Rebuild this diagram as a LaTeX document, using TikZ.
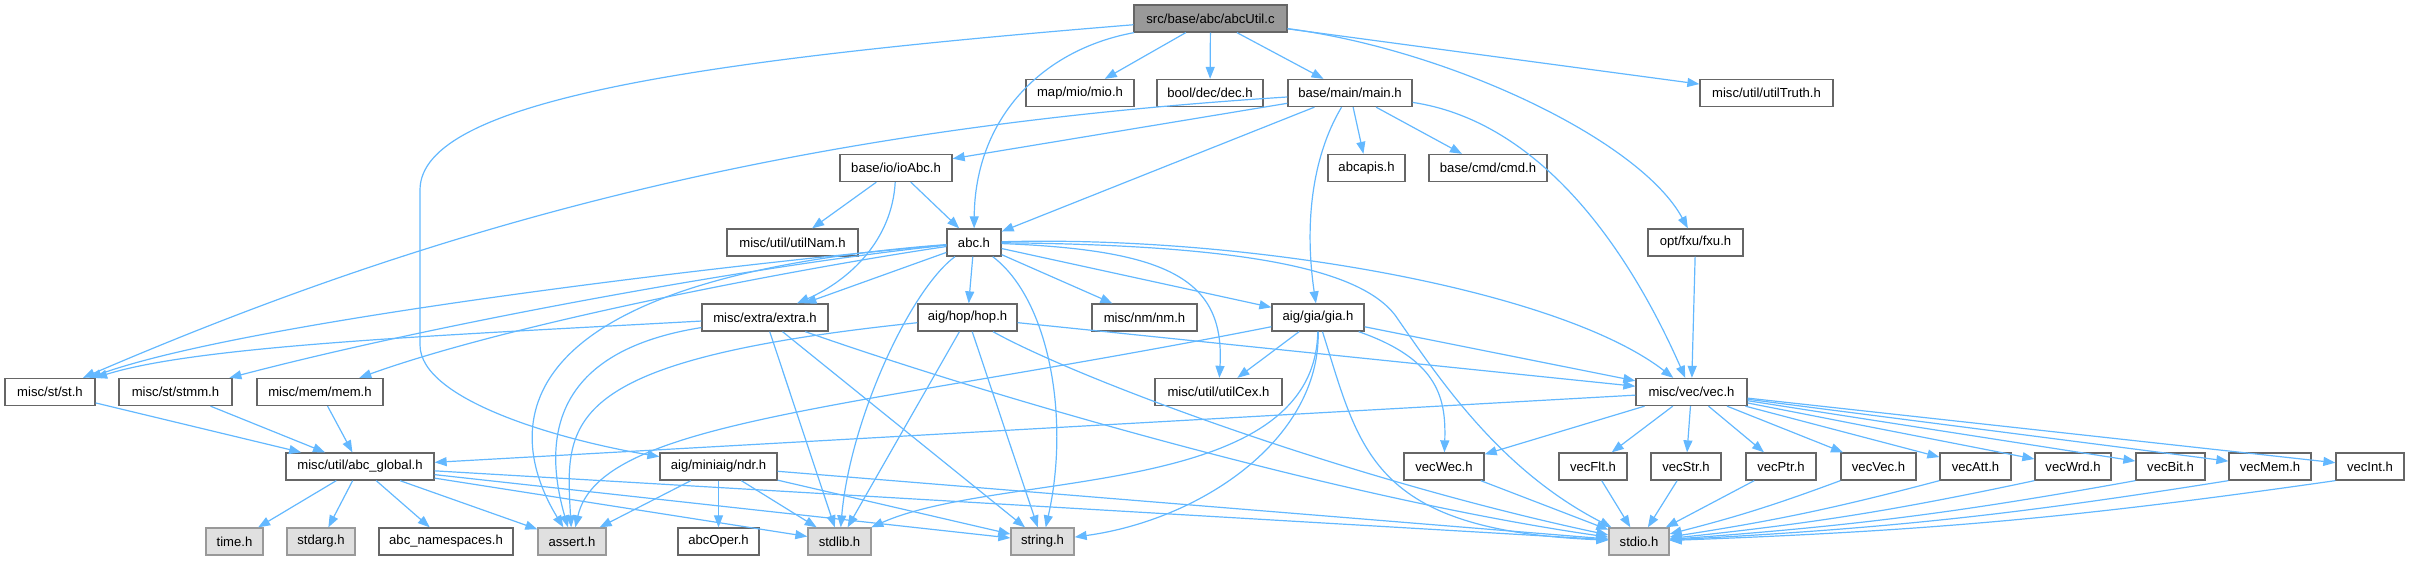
\documentclass[tikz,border=0pt]{standalone}
\usepackage{fontspec}
\setmainfont{Liberation Sans}
\usetikzlibrary{arrows.meta}
\definecolor{edgec}{HTML}{63B8FF}
\definecolor{bordc}{HTML}{666666}
\definecolor{sysfill}{HTML}{E0E0E0}
\definecolor{sysbord}{HTML}{999999}
\definecolor{rootfill}{HTML}{999999}
\begin{document}
\begin{tikzpicture}[x=1pt,y=-1pt,
  box/.style={draw=bordc, line width=1.3pt, fill=white, minimum height=27pt, inner sep=0pt,
     font=\fontsize{13.1}{15}\selectfont},
  sys/.style={box, draw=sysbord, fill=sysfill},
  rootbox/.style={box, fill=rootfill, draw=bordc},
  e/.style={draw=edgec, line width=1.2pt, -{Triangle[length=12pt,width=9pt]}}
]
\useasboundingbox (0,0) rectangle (2410,560);
% row 1
\node[rootbox, minimum width=153pt] (u) at (1210.5,18.5) {src/base/abc/abcUtil.c};
% row 2
\node[box, minimum width=108pt] (mio) at (1080,93) {map/mio/mio.h};
\node[box, minimum width=106pt] (dec) at (1210,93) {bool/dec/dec.h};
\node[box, minimum width=124pt] (m) at (1350,93) {base/main/main.h};
\node[box, minimum width=133pt] (truth) at (1766.5,93) {misc/util/utilTruth.h};
% row 3
\node[box, minimum width=112pt] (io) at (896,168) {base/io/ioAbc.h};
\node[box, minimum width=77pt] (apis) at (1366.5,168) {abcapis.h};
\node[box, minimum width=118pt] (cmd) at (1488,168) {base/cmd/cmd.h};
% row 4
\node[box, minimum width=131pt] (nam) at (792.5,242.5) {misc/util/utilNam.h};
\node[box, minimum width=54pt] (a) at (974,242.5) {abc.h};
\node[box, minimum width=95pt] (fxu) at (1695.5,242.5) {opt/fxu/fxu.h};
% row 5
\node[box, minimum width=126pt] (x) at (765,317.5) {misc/extra/extra.h};
\node[box, minimum width=99pt] (h) at (967.5,317.5) {aig/hop/hop.h};
\node[box, minimum width=105pt] (nm) at (1144.5,317.5) {misc/nm/nm.h};
\node[box, minimum width=92pt] (g) at (1318,317.5) {aig/gia/gia.h};
% row 6
\node[box, minimum width=90pt] (st) at (50,392) {misc/st/st.h};
\node[box, minimum width=113pt] (stmm) at (175.5,392) {misc/st/stmm.h};
\node[box, minimum width=126pt] (mem) at (320,392) {misc/mem/mem.h};
\node[box, minimum width=127pt] (cex) at (1218.5,392) {misc/util/utilCex.h};
\node[box, minimum width=111pt] (v) at (1691.5,392) {misc/vec/vec.h};
% row 7
\node[box, minimum width=148pt] (ag) at (360,466.5) {misc/util/abc\_global.h};
\node[box, minimum width=117pt] (n) at (718.5,466.5) {aig/miniaig/ndr.h};
\node[box, minimum width=80pt] (vwec) at (1444,466.5) {vecWec.h};
\node[box, minimum width=68pt] (vflt) at (1593,466.5) {vecFlt.h};
\node[box, minimum width=70pt] (vstr) at (1686,466.5) {vecStr.h};
\node[box, minimum width=70pt] (vptr) at (1781,466.5) {vecPtr.h};
\node[box, minimum width=75pt] (vvec) at (1878.5,466.5) {vecVec.h};
\node[box, minimum width=71pt] (vatt) at (1975.5,466.5) {vecAtt.h};
\node[box, minimum width=76pt] (vwrd) at (2073,466.5) {vecWrd.h};
\node[box, minimum width=69pt] (vbit) at (2170.5,466.5) {vecBit.h};
\node[box, minimum width=82pt] (vmem) at (2270,466.5) {vecMem.h};
\node[box, minimum width=68pt] (vint) at (2370,466.5) {vecInt.h};
% row 8
\node[sys, minimum width=57pt] (time) at (234.5,541.5) {time.h};
\node[sys, minimum width=68pt] (stdarg) at (321,541.5) {stdarg.h};
\node[box, minimum width=134pt] (ns) at (446,541.5) {abc\_namespaces.h};
\node[sys, minimum width=68pt] (assert) at (572,541.5) {assert.h};
\node[box, minimum width=81pt] (oper) at (718.5,541.5) {abcOper.h};
\node[sys, minimum width=63pt] (stdlib) at (839.5,541.5) {stdlib.h};
\node[sys, minimum width=63pt] (string) at (1042.5,541.5) {string.h};
\node[sys, minimum width=60pt] (stdio) at (1639,541.5) {stdio.h};

% abcUtil.c
\draw[e] (u) .. controls (1040,50) and (975,120) .. (a);
\draw[e] (u) -- (mio);
\draw[e] (u) -- (dec);
\draw[e] (u) -- (m);
\draw[e] (u) -- (truth);
\draw[e] (u) .. controls (1450,50) and (1640,140) .. (fxu);
\coordinate (k1) at (420,190);
\coordinate (k2) at (420,345);
\draw[e] (u) .. controls (700,60) and (420,100) .. (k1) -- (k2) .. controls (420,400) and (560,440) .. (n);
% main.h
\draw[e] (m) .. controls (800,128) and (450,220) .. (st);
\draw[e] (m) -- (io);
\draw[e] (m) -- (a);
\draw[e] (m) .. controls (1310,160) and (1305,230) .. (g);
\draw[e] (m) -- (apis);
\draw[e] (m) -- (cmd);
\draw[e] (m) .. controls (1530,120) and (1620,230) .. (v);
% ioAbc.h
\draw[e] (io) -- (nam);
\draw[e] (io) -- (a);
\draw[e] (io) .. controls (892,240) and (850,280) .. (x);
% abc.h
\draw[e] (a) .. controls (750,262) and (250,320) .. (st);
\draw[e] (a) .. controls (780,262) and (450,320) .. (stmm);
\draw[e] (a) .. controls (820,265) and (520,320) .. (mem);
\draw[e] (a) -- (x);
\draw[e] (a) -- (h);
\draw[e] (a) -- (nm);
\draw[e] (a) -- (g);
\draw[e] (a) .. controls (1170,250) and (1225,280) .. (cex);
\draw[e] (a) .. controls (1250,235) and (1560,290) .. (v);
\coordinate (k3) at (1395,315);
\draw[e] (a) .. controls (1250,245) and (1360,270) .. (k3) .. controls (1440,380) and (1500,470) .. (stdio);
\draw[e] (a) .. controls (1050,300) and (1070,420) .. (string);
\draw[e] (a) .. controls (910,290) and (850,420) .. (stdlib);
\draw[e] (a) .. controls (480,280) and (510,440) .. (assert);
% extra.h
\draw[e] (x) .. controls (450,335) and (200,345) .. (st);
\draw[e] (x) .. controls (560,350) and (540,430) .. (assert);
\draw[e] (x) -- (stdlib);
\draw[e] (x) -- (string);
\draw[e] (x) .. controls (1000,400) and (1350,500) .. (stdio);
% hop.h
\draw[e] (h) -- (v);
\draw[e] (h) .. controls (560,360) and (565,420) .. (assert);
\draw[e] (h) -- (stdlib);
\draw[e] (h) -- (string);
\draw[e] (h) .. controls (1080,380) and (1350,480) .. (stdio);
% gia.h
\draw[e] (g) .. controls (850,410) and (600,420) .. (assert);
\draw[e] (g) -- (cex);
\draw[e] (g) -- (v);
\draw[e] (g) .. controls (1440,360) and (1446,400) .. (vwec);
\draw[e] (g) .. controls (1360,450) and (1370,530) .. (stdio);
\draw[e] (g) .. controls (1320,440) and (1200,520) .. (string);
\draw[e] (g) .. controls (1315,500) and (1000,470) .. (stdlib);
% ndr.h
\draw[e] (n) -- (assert);
\draw[e] (n) -- (oper);
\draw[e] (n) -- (stdlib);
\draw[e] (n) -- (string);
\draw[e] (n) -- (stdio);
% abc_global.h
\draw[e] (ag) -- (time);
\draw[e] (ag) -- (stdarg);
\draw[e] (ag) -- (ns);
\draw[e] (ag) -- (assert);
\draw[e] (ag) -- (stdlib);
\draw[e] (ag) -- (string);
\draw[e] (ag) -- (stdio);
% st, stmm, mem
\draw[e] (st) -- (ag);
\draw[e] (stmm) -- (ag);
\draw[e] (mem) -- (ag);
% fxu
\draw[e] (fxu) -- (v);
% vec.h
\draw[e] (v) -- (ag);
\foreach \t in {vwec,vflt,vstr,vptr,vvec,vatt,vwrd,vbit,vmem,vint}{
  \draw[e] (v) -- (\t);
}
\draw[e] (vwec) -- (stdio);
\draw[e] (vflt) -- (stdio);
\draw[e] (vstr) -- (stdio);
\draw[e] (vptr) -- (stdio);
\foreach \t in {vvec,vatt,vwrd,vbit,vmem,vint}{
  \draw[e] (\t.south west) to[bend left=3] (stdio);
}
\end{tikzpicture}
\end{document}
